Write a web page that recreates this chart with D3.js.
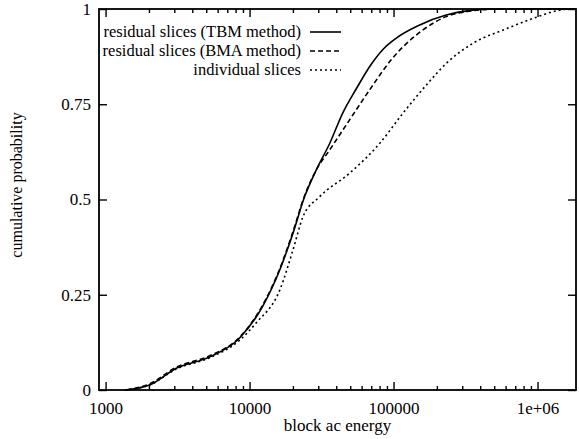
<!DOCTYPE html>
<html><head><meta charset="utf-8">
<script src="https://cdn.jsdelivr.net/npm/d3@7"></script>
<style>body{margin:0;background:#fff}svg{display:block}text{font-family:"Liberation Serif","Times New Roman",serif;fill:#000}</style>
</head><body><svg id="c" width="579" height="439"></svg>
<script>
const xTickValues = [1000, 10000, 100000, 1000000];
const xTickLabels = ["1000", "10000", "100000", "1e+06"];
const yTickValues = [0, 0.25, 0.5, 0.75, 1];
const yTickLabels = ["0", "0.25", "0.5", "0.75", "1"];
const seriesNames = ["residual slices (TBM method)", "residual slices (BMA method)", "individual slices"];

const tbmEnergy = [1355, 2020, 3100, 5300, 8500, 12300, 16200, 20000, 24100, 29000, 36000, 44500, 55000, 70000, 85000, 104000, 152000, 232000, 354000, 464000, 1850000];
const tbmProb   = [0, 0.013, 0.057, 0.087, 0.136, 0.219, 0.315, 0.411, 0.507, 0.577, 0.647, 0.728, 0.79, 0.855, 0.895, 0.923, 0.958, 0.984, 0.997, 1, 1];

const bmaEnergy = [1400, 2020, 3100, 5300, 8500, 12300, 16200, 20000, 24100, 29000, 36000, 49500, 68000, 96000, 160000, 232000, 320000, 545000, 1850000];
const bmaProb   = [0, 0.016, 0.06, 0.09, 0.138, 0.222, 0.318, 0.415, 0.51, 0.577, 0.63, 0.709, 0.787, 0.866, 0.945, 0.98, 0.993, 1, 1];

const indEnergy = [1355, 2020, 3100, 5300, 8500, 11100, 16200, 20000, 23500, 30600, 49500, 80000, 116000, 173000, 232000, 356000, 606000, 927000, 1350000, 1700000, 1850000];
const indProb   = [0, 0.013, 0.055, 0.085, 0.13, 0.176, 0.262, 0.367, 0.455, 0.507, 0.569, 0.647, 0.726, 0.805, 0.857, 0.91, 0.948, 0.975, 0.995, 1, 1];

const svg = d3.select("#c");
const L = 99, R = 576, T = 9, B = 390;
const FS = "17px";
const x = d3.scaleLog().domain([900, 1850000]).range([L, R]);
const y = d3.scaleLinear().domain([0, 1]).range([B, T]);

const minor = [];
for (let d = 1000; d < 2e6; d *= 10) for (let k = 2; k <= 9; k++) if (d * k <= 1850000) minor.push(d * k);

const fmtX = v => xTickLabels[xTickValues.indexOf(v)];
const fmtY = v => yTickLabels[yTickValues.indexOf(v)];

function style(g){ g.select(".domain").remove(); g.selectAll("line").attr("stroke","#000").attr("stroke-width",1.4); g.selectAll("text").style("font-size",FS).attr("fill","#000"); }

svg.append("g").attr("transform",`translate(0,${B})`).call(d3.axisBottom(x).tickValues(xTickValues).tickFormat(fmtX).tickSize(-8).tickPadding(12)).call(style);
svg.append("g").attr("transform",`translate(0,${B})`).call(d3.axisBottom(x).tickValues(minor).tickFormat("").tickSize(-4)).call(style);
svg.append("g").attr("transform",`translate(0,${T})`).call(d3.axisTop(x).tickValues(xTickValues).tickFormat("").tickSize(-8)).call(style);
svg.append("g").attr("transform",`translate(0,${T})`).call(d3.axisTop(x).tickValues(minor).tickFormat("").tickSize(-4)).call(style);
svg.append("g").attr("transform",`translate(${L},0)`).call(d3.axisLeft(y).tickValues(yTickValues).tickFormat(fmtY).tickSize(-8).tickPadding(8)).call(style);
svg.append("g").attr("transform",`translate(${R},0)`).call(d3.axisRight(y).tickValues(yTickValues).tickFormat("").tickSize(-8)).call(style);

svg.append("rect").attr("x",L).attr("y",T).attr("width",R-L).attr("height",B-T).attr("fill","none").attr("stroke","#000").attr("stroke-width",1.8);

const series = [
  {e: tbmEnergy, p: tbmProb, dash: null},
  {e: bmaEnergy, p: bmaProb, dash: "5,3"},
  {e: indEnergy, p: indProb, dash: "2,3"}
];
const line = d3.line().x(d => x(d[0])).y(d => y(d[1])).curve(d3.curveMonotoneX);
series.forEach(s => {
  svg.append("path").datum(s.e.map((v,i)=>[v, s.p[i]])).attr("d", line)
    .attr("fill","none").attr("stroke","#000").attr("stroke-width",1.6)
    .attr("stroke-dasharray", s.dash);
});

// legend
const lg = svg.append("g");
series.forEach((s,i) => {
  const yy = 32 + i*19;
  lg.append("text").attr("x",301).attr("y",yy+5).attr("text-anchor","end").style("font-size","16.5px").text(seriesNames[i]);
  lg.append("line").attr("x1",310).attr("x2",341).attr("y1",yy).attr("y2",yy).attr("stroke","#000").attr("stroke-width",1.6).attr("stroke-dasharray", s.dash);
});

svg.append("text").attr("x",(L+R)/2).attr("y",431).attr("text-anchor","middle").style("font-size",FS).text("block ac energy");
svg.append("text").attr("transform","translate(22,185) rotate(-90)").attr("text-anchor","middle").style("font-size","16px").text("cumulative probability");
</script></body></html>
